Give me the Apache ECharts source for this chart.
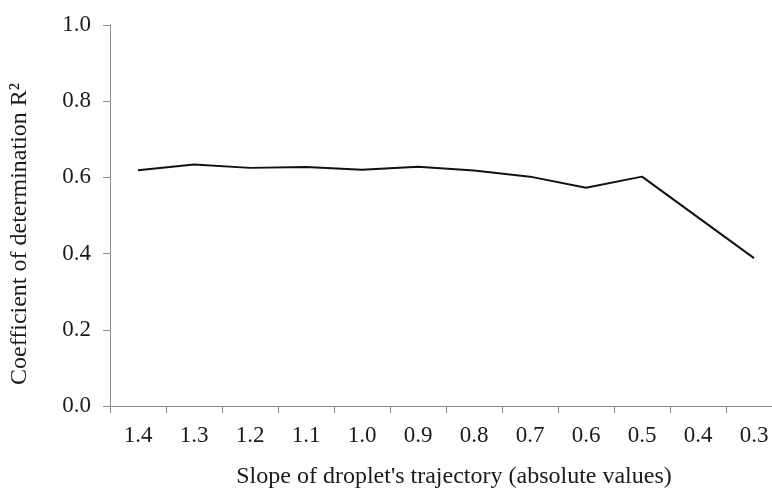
<!DOCTYPE html>
<html>
<head>
<meta charset="utf-8">
<script src="https://cdn.jsdelivr.net/npm/echarts@6/dist/echarts.min.js"></script>
<style>
  html, body { margin: 0; padding: 0; background: #fff; }
  #chart { width: 772px; height: 492px; }
</style>
</head>
<body>
<div id="chart"></div>
<script>
// Slope categories (absolute values), descending as on the axis
const slopes = ['1.4', '1.3', '1.2', '1.1', '1.0', '0.9', '0.8', '0.7', '0.6', '0.5', '0.4', '0.3'];
// Coefficient of determination R² for each slope
const r2Values = [0.619, 0.634, 0.625, 0.627, 0.620, 0.628, 0.618, 0.602, 0.573, 0.602, 0.495, 0.388];
// Y axis range
const yMin = 0;
const yMax = 1;
const yStep = 0.2;

const serif = '"Liberation Serif", "Times New Roman", serif';
const axisGray = '#8c8c8c';

const chart = echarts.init(document.getElementById('chart'), null, { renderer: 'canvas' });
chart.setOption({
  animation: false,
  backgroundColor: '#ffffff',
  grid: { left: 110, top: 25, right: -10, bottom: 86, containLabel: false, outerBoundsMode: 'none' },
  xAxis: {
    type: 'category',
    data: slopes,
    boundaryGap: true,
    name: "Slope of droplet's trajectory (absolute values)",
    nameLocation: 'middle',
    nameGap: 59,
    nameTextStyle: { fontFamily: serif, fontSize: 24, color: '#1a1a1a', padding: [0, 0, 0, 16] },
    axisLine: { show: true, lineStyle: { color: axisGray, width: 1 } },
    axisTick: { show: true, alignWithLabel: false, length: 7, lineStyle: { color: axisGray } },
    axisLabel: { fontFamily: serif, fontSize: 23, color: '#1a1a1a', margin: 18 },
    splitLine: { show: false }
  },
  yAxis: {
    type: 'value',
    min: yMin,
    max: yMax,
    interval: yStep,
    name: 'Coefficient of determination R²',
    nameLocation: 'middle',
    nameGap: 78,
    nameRotate: 90,
    nameTextStyle: { fontFamily: serif, fontSize: 24, color: '#1a1a1a', padding: [0, 37, 0, 0] },
    axisLine: { show: true, lineStyle: { color: axisGray, width: 1 } },
    axisTick: { show: true, length: 7, lineStyle: { color: axisGray } },
    axisLabel: { fontFamily: serif, fontSize: 23, color: '#1a1a1a', margin: 19, formatter: v => v.toFixed(1) },
    splitLine: { show: false }
  },
  series: [{
    type: 'line',
    data: r2Values,
    showSymbol: false,
    symbol: 'none',
    lineStyle: { color: '#111', width: 2 },
    silent: true
  }]
});
</script>
</body>
</html>
